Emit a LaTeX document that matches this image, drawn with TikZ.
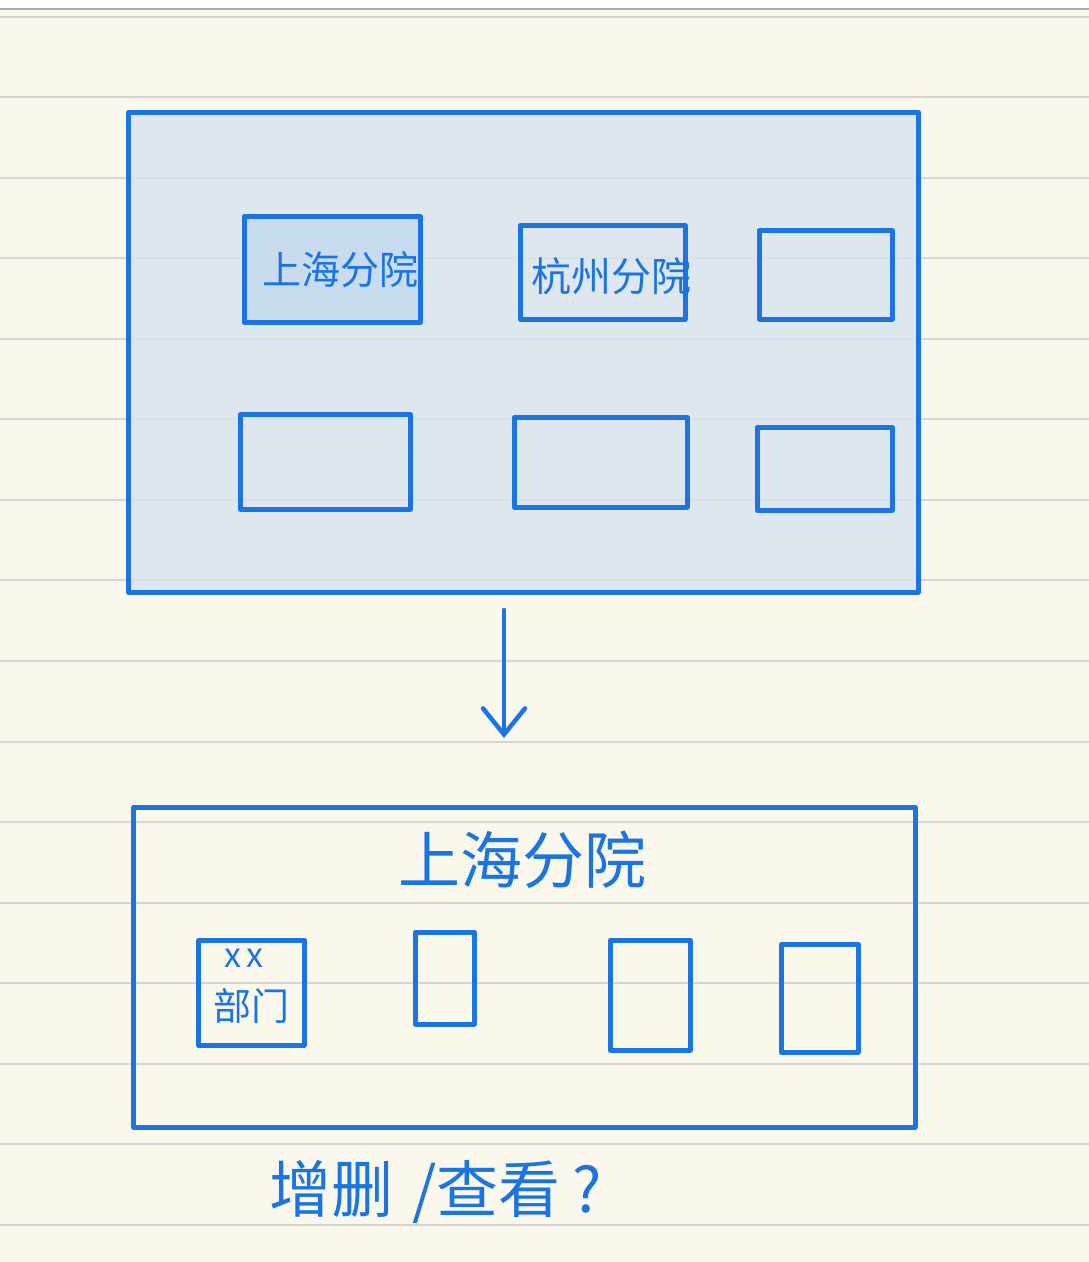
\documentclass[tikz,border=0pt]{standalone}
\usepackage{fontspec}
\newfontfamily\cjk{Noto Sans CJK SC}
\usetikzlibrary{arrows.meta}
\definecolor{paper}{HTML}{FAF7EC}
\definecolor{rule}{HTML}{D9D6CE}
\definecolor{ink}{HTML}{1A74E2}
\definecolor{panel}{HTML}{D9E5EE}
\definecolor{cell}{HTML}{C6DBF0}
\tikzset{
  ink/.style={draw=ink, line width=4.5pt, line join=round, line cap=round},
  box/.style={ink, rectangle, anchor=north west, inner sep=0pt},
  hand/.style={text=ink, font=\cjk},
}
\begin{document}
\begin{tikzpicture}[x=1pt,y=-1pt]
\useasboundingbox (0,0) rectangle (1089,1262);
\fill[paper] (0,0) rectangle (1089,1262);
\fill[white] (0,0) rectangle (1089,9);
\draw[rule!80!black, line width=1.5pt] (0,9) -- (1089,9);
\draw[rule, line width=1.5pt] (0,17) -- (1089,17);
\foreach \y in {97,178,258,339,419,500,580,661,742,822,903,983,1064,1144,1225}
  \draw[rule, line width=2pt] (0,\y) -- (1089,\y);
% big panel
\node[box, fill=panel, fill opacity=0.85, minimum width=790pt, minimum height=480pt] (big) at (126,110) {};
\node[box, fill=cell, fill opacity=0.85, minimum width=176pt, minimum height=106pt] (sh) at (242,214) {};
\node[hand, font=\cjk\fontsize{39}{40}\selectfont, anchor=west] (shl) at (259,270) {上海分院};
\node[box, minimum width=165pt, minimum height=94pt] (hz) at (518,223) {};
\node[hand, font=\cjk\fontsize{40}{40}\selectfont, anchor=west] (hzl) at (528,276) {杭州分院};
\node[box, minimum width=133pt, minimum height=89pt] (b3) at (757,228) {};
\node[box, minimum width=170pt, minimum height=95pt] (b4) at (238,412) {};
\node[box, minimum width=173pt, minimum height=90pt] (b5) at (512,415) {};
\node[box, minimum width=135pt, minimum height=83pt] (b6) at (755,425) {};
% arrow
\coordinate (a1) at (504,610);
\coordinate (a2) at (504,738);
\draw[ink, -{Straight Barb[length=26pt,width=42pt,line cap=round]}] (a1) -- (a2);
% bottom panel
\node[box, minimum width=782pt, minimum height=320pt] (bot) at (131,805) {};
\node[hand, font=\cjk\fontsize{62}{64}\selectfont] (botl) at (522,860) {上海分院};
\node[box, minimum width=106pt, minimum height=105pt] (d1) at (196,938) {};
\node[hand, font=\cjk\fontsize{34}{34}\selectfont, inner sep=0pt] (d1x) at (244,958) {x\,x};
\node[hand, font=\cjk\fontsize{38}{38}\selectfont, inner sep=0pt] (d1l) at (251,1006) {部门};
\node[box, minimum width=59pt, minimum height=92pt] (d2) at (413,930) {};
\node[box, minimum width=80pt, minimum height=110pt] (d3) at (608,938) {};
\node[box, minimum width=77pt, minimum height=108pt] (d4) at (779,942) {};
% question
\node[hand, font=\cjk\fontsize{62}{64}\selectfont, anchor=west] (q) at (266,1192) {增删\hspace{0.3em}/查看\hspace{0.2em}?};
\end{tikzpicture}
\end{document}
